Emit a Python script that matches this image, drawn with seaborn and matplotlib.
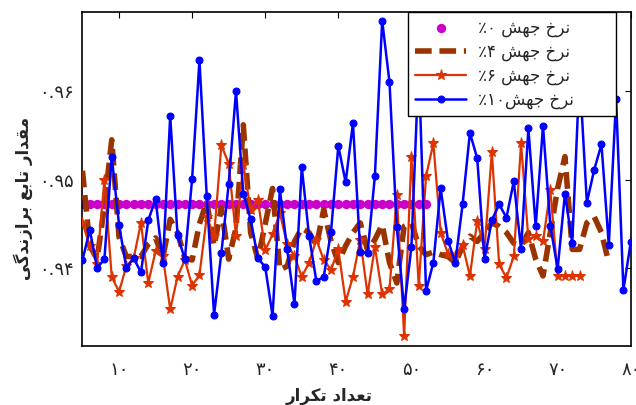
import numpy as np
import pandas as pd
import seaborn as sns
import matplotlib
matplotlib.use("Agg")
import matplotlib.pyplot as plt
from matplotlib.ticker import FixedLocator, FixedFormatter

# iteration counts
iters_0 = list(range(5, 53))
iters_4 = list(range(5, 78))
iters_6 = list(range(5, 74))
iters_10 = list(range(5, 81))

# fitness values
fit_0 = [0.9472] * len(iters_0)

fit_4 = [0.9510, 0.9425, 0.9410, 0.9470, 0.9545, 0.9435, 0.9413, 0.9413, 0.9413, 0.9427,
         0.9434, 0.9412, 0.9455, 0.9440, 0.9411, 0.9409, 0.9450, 0.9475, 0.9425, 0.9468,
         0.9410, 0.9445, 0.9562, 0.9440, 0.9410, 0.9450, 0.9490, 0.9398, 0.9402, 0.9430,
         0.9445, 0.9440, 0.9425, 0.9466, 0.9430, 0.9406, 0.9425, 0.9440, 0.9451, 0.9420,
         0.9432, 0.9449, 0.9406, 0.9383, 0.9447, 0.9451, 0.9425, 0.9415, 0.9418, 0.9415,
         0.9413, 0.9406, 0.9424, 0.9436, 0.9430, 0.9440, 0.9451, 0.9447, 0.9440, 0.9428,
         0.9425, 0.9440, 0.9410, 0.9391, 0.9440, 0.9490, 0.9526, 0.9421, 0.9421, 0.9451,
         0.9458, 0.9440, 0.9406]

fit_6 = [0.9451, 0.9425, 0.9405, 0.9500, 0.9390, 0.9373, 0.9402, 0.9411, 0.9451, 0.9383,
         0.9419, 0.9413, 0.9353, 0.9390, 0.9409, 0.9380, 0.9392, 0.9458, 0.9436, 0.9539,
         0.9518, 0.9436, 0.9517, 0.9466, 0.9477, 0.9420, 0.9438, 0.9462, 0.9427, 0.9413,
         0.9390, 0.9406, 0.9432, 0.9409, 0.9398, 0.9421, 0.9362, 0.9390, 0.9432, 0.9370,
         0.9424, 0.9370, 0.9376, 0.9483, 0.9323, 0.9526, 0.9380, 0.9504, 0.9541, 0.9440,
         0.9416, 0.9413, 0.9426, 0.9391, 0.9453, 0.9421, 0.9531, 0.9404, 0.9389, 0.9413,
         0.9541, 0.9433, 0.9436, 0.9430, 0.9488, 0.9391, 0.9391, 0.9391, 0.9391]

fit_10 = [0.9409, 0.9443, 0.9400, 0.9410, 0.9526, 0.9449, 0.9400, 0.9411, 0.9395, 0.9454,
          0.9478, 0.9406, 0.9572, 0.9437, 0.9410, 0.9501, 0.9635, 0.9481, 0.9347, 0.9417,
          0.9495, 0.9600, 0.9484, 0.9455, 0.9411, 0.9401, 0.9346, 0.9489, 0.9421, 0.9359,
          0.9514, 0.9436, 0.9385, 0.9390, 0.9441, 0.9538, 0.9497, 0.9564, 0.9418, 0.9417,
          0.9504, 0.9680, 0.9610, 0.9446, 0.9353, 0.9424, 0.9630, 0.9374, 0.9406, 0.9490,
          0.9431, 0.9406, 0.9472, 0.9553, 0.9524, 0.9410, 0.9454, 0.9472, 0.9457, 0.9498,
          0.9421, 0.9558, 0.9447, 0.9561, 0.9448, 0.9399, 0.9484, 0.9428, 0.9620, 0.9474,
          0.9511, 0.9540, 0.9426, 0.9591, 0.9375, 0.9429]

# Persian text, written in visual (left-to-right) order with presentation forms
w_nerkh = "\ufea5\ufeae\ufee7"                    # نرخ
w_jahesh = "\ufeb6\ufeec\ufe9f"                   # جهش
w_tedad = "\ufea9\ufe8d\ufeaa\ufecc\ufe97"        # تعداد
w_tekrar = "\ufead\ufe8d\ufeae\ufb91\ufe97"       # تکرار
w_meghdar = "\ufead\ufe8d\ufeaa\ufed8\ufee3"      # مقدار
w_tabe = "\ufeca\ufe91\ufe8e\ufe97"               # تابع
w_barazandegi = "\ufbfd\ufb94\ufeaa\ufee7\ufeaf\ufe8d\ufeae\ufe91"  # برازندگی

labels = ["\u066a\u06f0 " + w_jahesh + " " + w_nerkh,
          "\u066a\u06f4 " + w_jahesh + " " + w_nerkh,
          "\u066a\u06f6 " + w_jahesh + " " + w_nerkh,
          "\u066a\u06f1\u06f0" + w_jahesh + " " + w_nerkh]
xlabel = w_tekrar + " " + w_tedad
ylabel = w_barazandegi + " " + w_tabe + " " + w_meghdar

xtick_vals = [10, 20, 30, 40, 50, 60, 70, 80]
xtick_text = ["\u06f1\u06f0", "\u06f2\u06f0", "\u06f3\u06f0", "\u06f4\u06f0",
              "\u06f5\u06f0", "\u06f6\u06f0", "\u06f7\u06f0", "\u06f8\u06f0"]
ytick_vals = [0.94, 0.95, 0.96]
ytick_text = ["\u06f0.\u06f9\u06f4", "\u06f0.\u06f9\u06f5", "\u06f0.\u06f9\u06f6"]

sns.set_style("white", {"xtick.direction": "in", "ytick.direction": "in"})
plt.rcParams["font.family"] = ["DejaVu Sans"]

fig = plt.figure(figsize=(6.36, 4.05), dpi=100)
ax = fig.add_axes([0.1297, 0.1464, 0.862, 0.8247])

sns.scatterplot(x=iters_0, y=fit_0, ax=ax, color="#cc00cc", s=45, linewidth=0,
                label=labels[0], zorder=2)
sns.lineplot(x=iters_4, y=fit_4, ax=ax, color="#993300", linewidth=4,
             linestyle=(0, (3, 1.4)), estimator=None, label=labels[1], zorder=3)
sns.lineplot(x=iters_6, y=fit_6, ax=ax, color="#dd3300", linewidth=1.6,
             marker="*", markersize=8, markeredgecolor="#dd3300",
             estimator=None, label=labels[2], zorder=4)
sns.lineplot(x=iters_10, y=fit_10, ax=ax, color="#0000ff", linewidth=1.8,
             marker="o", markersize=5, markeredgecolor="#0000ff",
             estimator=None, label=labels[3], zorder=5)

ax.set_xlim(5, 80)
ax.set_ylim(0.9312, 0.969)
ax.xaxis.set_major_locator(FixedLocator(xtick_vals))
ax.xaxis.set_major_formatter(FixedFormatter(xtick_text))
ax.yaxis.set_major_locator(FixedLocator(ytick_vals))
ax.yaxis.set_major_formatter(FixedFormatter(ytick_text))
ax.tick_params(axis="both", which="both", direction="in", top=True, right=True,
               length=4, width=0.8, labelsize=13, color="black", pad=6)
ax.tick_params(axis="x", pad=11)
for sp in ax.spines.values():
    sp.set_color("black")
    sp.set_linewidth(1.2)

ax.set_xlabel(xlabel, fontsize=12, fontweight="bold")
ax.set_ylabel(ylabel, fontsize=12, fontweight="bold")
ax.xaxis.set_label_coords(0.45, -0.125)
ax.yaxis.set_label_coords(-0.09, 0.44)

leg = ax.legend(loc="upper left", bbox_to_anchor=(0.594, 0.682, 0.379, 0.318),
                mode="expand", borderaxespad=0,
                fontsize=12, frameon=True, fancybox=False, framealpha=1,
                edgecolor="black", handlelength=3.1, labelspacing=0.35,
                handletextpad=0.7, borderpad=0.4)
leg.get_frame().set_linewidth(1.0)

fig.savefig("out.png", dpi=100)
